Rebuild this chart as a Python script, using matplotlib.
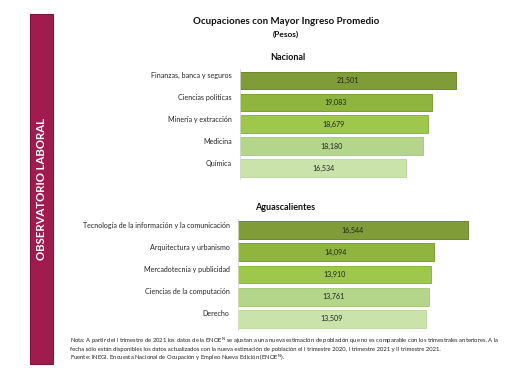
import matplotlib
matplotlib.use("Agg")
import matplotlib.pyplot as plt
from matplotlib.patches import Rectangle
from matplotlib.transforms import ScaledTranslation

plt.rcParams['font.family'] = ['Lato', 'DejaVu Sans']

# data
nac_labels = ["Finanzas, banca y seguros", "Ciencias políticas", "Minería y extracción",
              "Medicina", "Química"]
nac_values = [21501, 19083, 18679, 18180, 16534]

ags_labels = ["Tecnología de la información y la comunicación", "Arquitectura y urbanismo",
              "Mercadotecnia y publicidad", "Ciencias de la computación", "Derecho"]
ags_values = [16544, 14094, 13910, 13761, 13509]

bar_colors = ["#7f9c38", "#8fb53e", "#9dc84b", "#b4d68b", "#c9e3ab"]
edge_colors = ["#6a8a22", "#7aa32a", "#8ab83a", "#a8cc7c", "#bcd99c"]

W, H = 512, 369
fig = plt.figure(figsize=(W / 100, H / 100), dpi=100)


def px_axes(left, top, width, height):
    # axes placed in pixel units (from top-left)
    return fig.add_axes([left / W, 1 - (top + height) / H, width / W, height / H])


def draw_panel(ax, labels, values, px_per_unit, width_px):
    ypos = range(len(values))
    ax.barh(ypos, values, height=0.8, color=bar_colors, edgecolor=edge_colors, linewidth=0.7)
    ax.set_xlim(0, width_px / px_per_unit)
    ax.set_ylim(len(values) - 0.5, -0.5)
    for y, v in zip(ypos, values):
        ax.text(v / 2, y, f"{v:,}", ha="center", va="center", fontsize=5.1, color="#222222")
    ax.set_yticks(list(ypos))
    ax.set_yticklabels(labels, fontsize=5.1, color="#262626")
    ax.tick_params(axis="y", length=0, pad=6)
    # labels sit near the top of each bar, as in the original
    shift = ScaledTranslation(0, 5.5 / 100, fig.dpi_scale_trans)
    for lbl in ax.get_yticklabels():
        lbl.set_transform(lbl.get_transform() + shift)
    ax.set_xticks([])
    for s in ["top", "right", "bottom"]:
        ax.spines[s].set_visible(False)
    ax.spines["left"].set_color("#d9d9d9")
    ax.spines["left"].set_linewidth(0.6)


ax1 = px_axes(240, 69.5, 240, 109.5)
draw_panel(ax1, nac_labels, nac_values, 216 / 21501, 240)

ax2 = px_axes(238, 219, 242, 111)
draw_panel(ax2, ags_labels, ags_values, 230 / 16544, 242)

# side band
band = Rectangle((30 / W, 1 - 364 / H), 23 / W, 350 / H, transform=fig.transFigure,
                 facecolor="#a01c4e", edgecolor="#7e1640", linewidth=0.8)
fig.patches.append(band)
fig.text(41.5 / W, 1 - 189 / H, "OBSERVATORIO LABORAL", rotation=90, ha="center", va="center",
         fontsize=8.2, fontweight="bold", color="white")

# titles
fig.text(286 / W, 1 - 21 / H, "Ocupaciones con Mayor Ingreso Promedio", ha="center", va="center",
         fontsize=7, fontweight="bold", color="#111111")
fig.text(286 / W, 1 - 34 / H, "(Pesos)", ha="center", va="center",
         fontsize=6, fontweight="bold", color="#111111")
fig.text(288 / W, 1 - 57 / H, "Nacional", ha="center", va="center",
         fontsize=6.5, fontweight="bold", color="#111111")
fig.text(285 / W, 1 - 207 / H, "Aguascalientes", ha="center", va="center",
         fontsize=6.5, fontweight="bold", color="#111111")

# notes
notes = [
    "Nota: A partir del I trimestre de 2021 los datos de la ENOE$^{\\mathrm{N}}$ se ajustan a una nueva estimación de población que no es comparable con los trimestrales anteriores. A la",
    "fecha sólo están disponibles los datos actualizados con la nueva estimación de población el I trimestre 2020, I trimestre 2021 y II trimestre 2021.",
    "Fuente: INEGI. Encuesta Nacional de Ocupación y Empleo Nueva Edición (ENOE$^{\\mathrm{N}}$).",
]
for i, line in enumerate(notes):
    fig.text(70 / W, 1 - (341 + 8.5 * i) / H, line, ha="left", va="center", fontsize=4.25, color="#222222")

fig.savefig("out.png", dpi=100, facecolor="white")
